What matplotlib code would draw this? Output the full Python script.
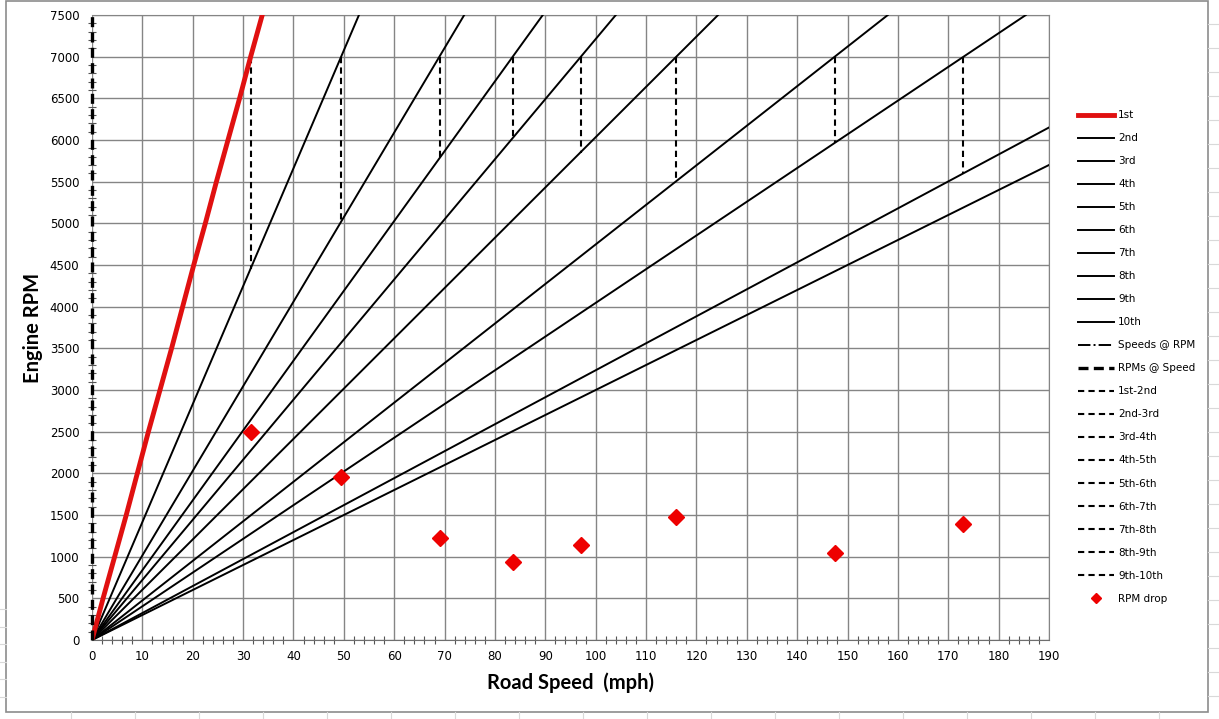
import numpy as np
import matplotlib.pyplot as plt
from matplotlib.lines import Line2D
from matplotlib.patches import Rectangle

# gear lines: engine rpm vs road speed (mph)
rpm_1st = [0, 500, 1000, 1500, 2000, 2500, 3000, 3500, 4000, 4500, 5000, 5500, 6000, 6500, 7000, 7500]
mph_1st = [0, 2.2, 4.5, 6.8, 9.0, 11.2, 13.5, 15.8, 18.0, 20.2, 22.5, 24.7, 27.0, 29.3, 31.5, 33.8]

gear_names = ["2nd", "3rd", "4th", "5th", "6th", "7th", "8th", "9th", "10th"]
mph_at_7500 = [53.0, 73.9, 89.5, 104.0, 124.3, 158.0, 185.4, 231.7, 250.0]

# shift points (at 7000 rpm) and the rpm landed on in the next gear
shift_names = ["1st-2nd", "2nd-3rd", "3rd-4th", "4th-5th", "5th-6th",
               "6th-7th", "7th-8th", "8th-9th", "9th-10th"]
shift_mph = [31.5, 49.5, 69.0, 83.5, 97.0, 116.0, 147.5, 173.0]
shift_top = [7000, 7000, 7000, 7000, 7000, 7000, 7000, 7000]
shift_low = [4450, 5020, 5780, 6020, 5850, 5500, 5960, 5600]
rpm_drop = [2500, 1960, 1230, 940, 1140, 1480, 1040, 1390]

fig = plt.figure(figsize=(12.19, 7.19), dpi=100)
fig.patch.set_facecolor("white")

# worksheet cell lines around the chart object
for yy in np.arange(24, 719, 24):
    fig.add_artist(Line2D([1208 / 1219, 1], [1 - yy / 719] * 2, color="#d9d9d9", lw=0.8))
for yy in np.arange(609, 712, 17.5):
    fig.add_artist(Line2D([0, 6 / 1219], [1 - yy / 719] * 2, color="#d9d9d9", lw=0.8))
for xx in np.arange(71, 1219, 64):
    fig.add_artist(Line2D([xx / 1219] * 2, [0, 7 / 719], color="#d9d9d9", lw=0.8))
fig.add_artist(Rectangle((6 / 1219, 7 / 719), 1202 / 1219, 711 / 719,
                         fill=False, edgecolor="#8c8c8c", lw=1.2))

ax = fig.add_axes([92 / 1219, 1 - 640 / 719, (1049 - 92) / 1219, (640 - 15) / 719])

handles = []
h, = ax.plot(mph_1st, rpm_1st, color="#e01010", lw=3.5, label="1st", zorder=4)
handles.append(h)
for name, top in zip(gear_names, mph_at_7500):
    h, = ax.plot([0, top], [0, 7500], color="black", lw=1.4, label=name, zorder=3)
    handles.append(h)

h, = ax.plot([], [], color="black", lw=1.4, ls="-.", label="Speeds @ RPM")
handles.append(h)
h, = ax.plot([0, 0], [0, 7500], color="black", lw=2.4, ls=(0, (3, 1.6)),
             label="RPMs @ Speed", zorder=5, clip_on=False)
handles.append(h)

for i, name in enumerate(shift_names):
    if i < len(shift_mph):
        h, = ax.plot([shift_mph[i], shift_mph[i]], [shift_top[i], shift_low[i]],
                     color="black", lw=1.5, ls=(0, (3, 2)), label=name, zorder=3)
    else:
        h, = ax.plot([], [], color="black", lw=1.5, ls=(0, (3, 2)), label=name)
    handles.append(h)

h, = ax.plot(shift_mph, rpm_drop, ls="none", marker="D", markersize=8.5,
             color="#ee0000", label="RPM drop", zorder=6)
handles.append(h)

ax.set_xlim(0, 190)
ax.set_ylim(0, 7500)
ax.set_xticks(np.arange(0, 191, 10))
ax.set_yticks(np.arange(0, 7501, 500))
ax.set_xticks(np.arange(0, 191, 2), minor=True)
ax.set_yticks(np.arange(0, 7501, 100), minor=True)
ax.grid(True, which="major", color="#858585", lw=1.0)
ax.set_axisbelow(True)
ax.tick_params(which="major", length=0, labelsize=8.5, pad=9, colors="black")
ax.tick_params(which="minor", direction="inout", length=6, width=0.8, color="#555555")
ax.tick_params(axis="x", which="major", pad=7)

for side in ["top", "right"]:
    ax.spines[side].set_color("#858585")
ax.spines["bottom"].set_color("#6e6e6e")
ax.spines["left"].set_visible(False)

ax.set_xlabel("Road Speed  (mph)", fontfamily="Lato", fontweight="bold", fontsize=14.5, labelpad=7)
ax.set_ylabel("Engine RPM", fontfamily="Lato", fontweight="bold", fontsize=14.5, labelpad=5)

fig.legend(handles=handles, loc="upper left", bbox_to_anchor=(1074 / 1219, 1 - 106 / 719),
           frameon=False, fontsize=7.5, handlelength=3.4, handletextpad=0.45,
           labelspacing=1.25, markerscale=0.55, borderaxespad=0)

plt.savefig("out.png", dpi=100)
